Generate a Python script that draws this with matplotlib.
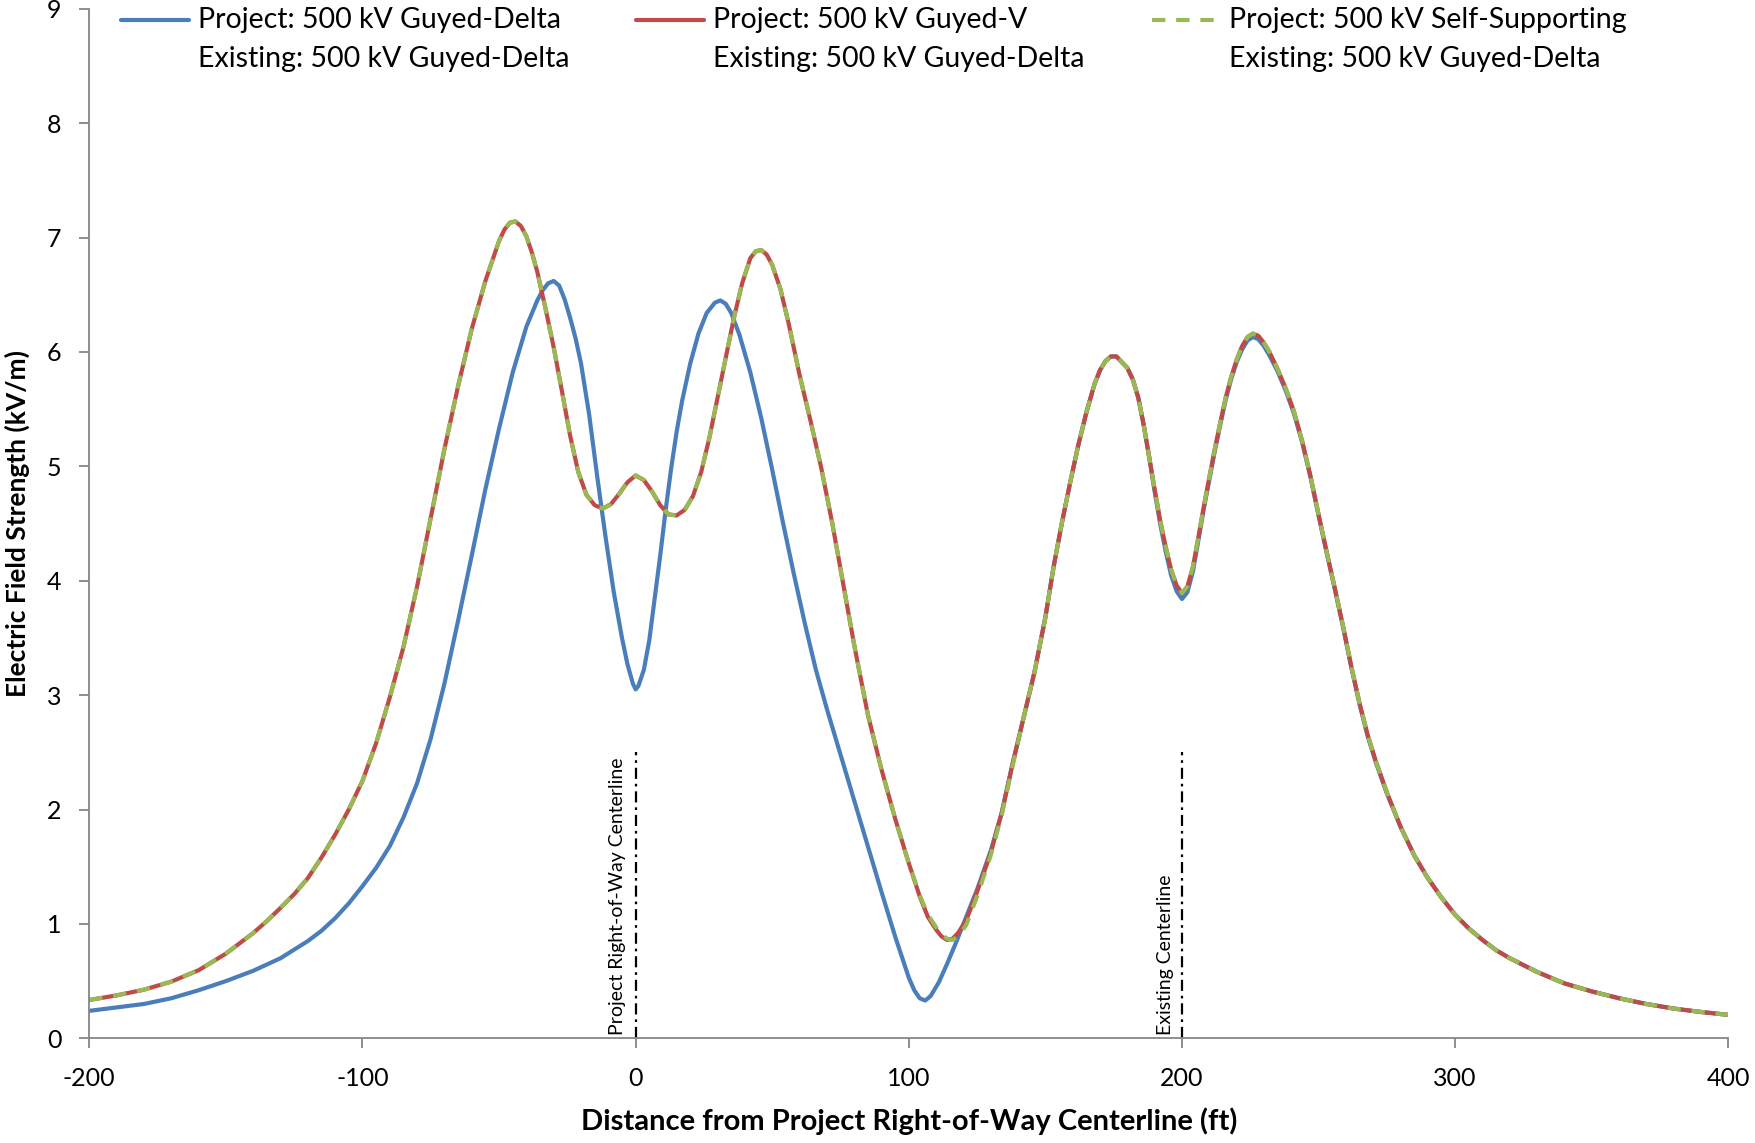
import matplotlib
matplotlib.use("Agg")
import matplotlib.pyplot as plt
from matplotlib.lines import Line2D

plt.rcParams['font.family'] = ['Lato', 'DejaVu Sans']

# ---------------- data ----------------
# Project: 500 kV Guyed-Delta / Existing: 500 kV Guyed-Delta
x_delta = [-200, -190, -180, -170, -160, -150, -140, -130, -120, -115, -110, -105, -100, -95, -90,
           -85, -80, -75, -70, -65, -60, -55, -50, -45, -40, -36, -34, -32, -30, -28, -26, -24,
           -22, -20, -17, -14, -11, -8, -5, -3, -1, 0, 1, 3, 5, 7, 9, 11, 13, 15, 17, 20, 23, 26,
           29, 31, 33, 35, 38, 42, 46, 50, 54, 58, 62, 66, 70, 75, 80, 85, 90, 95, 100, 102, 104,
           106, 108, 111, 114, 117, 120, 125, 130, 134, 138, 142, 146, 150, 153, 156, 159, 162,
           165, 168, 170, 172, 174, 176, 178, 180, 182, 184, 186, 188, 190, 192, 194, 196, 198,
           200, 202, 204, 206, 208, 210, 212, 214, 216, 218, 220, 222, 224, 226, 228, 230, 232,
           235, 238, 241, 244, 247, 250, 253, 256, 259, 262, 265, 268, 271, 275, 280, 285, 290,
           295, 300, 305, 310, 315, 320, 330, 340, 350, 360, 370, 380, 390, 400]
y_delta = [0.24, 0.27, 0.30, 0.35, 0.42, 0.50, 0.59, 0.70, 0.85, 0.94, 1.05, 1.18, 1.33, 1.49,
           1.68, 1.93, 2.23, 2.62, 3.10, 3.65, 4.22, 4.80, 5.33, 5.82, 6.22, 6.45, 6.54, 6.60,
           6.62, 6.58, 6.46, 6.30, 6.12, 5.90, 5.45, 4.90, 4.38, 3.90, 3.50, 3.27, 3.10, 3.05,
           3.08, 3.22, 3.48, 3.85, 4.22, 4.62, 4.98, 5.30, 5.57, 5.90, 6.16, 6.34, 6.43, 6.45,
           6.42, 6.34, 6.15, 5.82, 5.42, 4.97, 4.50, 4.05, 3.62, 3.22, 2.88, 2.48, 2.08, 1.68,
           1.28, 0.89, 0.53, 0.42, 0.35, 0.33, 0.37, 0.49, 0.65, 0.82, 1.00, 1.30, 1.64, 1.97,
           2.40, 2.80, 3.20, 3.68, 4.12, 4.50, 4.85, 5.18, 5.47, 5.72, 5.84, 5.92, 5.96, 5.96,
           5.91, 5.86, 5.76, 5.60, 5.36, 5.08, 4.78, 4.50, 4.26, 4.05, 3.91, 3.84, 3.90, 4.08,
           4.35, 4.63, 4.88, 5.13, 5.36, 5.58, 5.76, 5.91, 6.02, 6.10, 6.13, 6.11, 6.05, 5.97,
           5.83, 5.66, 5.46, 5.21, 4.91, 4.57, 4.24, 3.92, 3.59, 3.24, 2.92, 2.64, 2.41, 2.14,
           1.85, 1.60, 1.40, 1.23, 1.08, 0.96, 0.86, 0.77, 0.70, 0.58, 0.48, 0.41, 0.35, 0.30,
           0.26, 0.23, 0.205]

# Project: 500 kV Guyed-V / Existing: 500 kV Guyed-Delta
x_v = [-200, -190, -180, -170, -160, -150, -140, -135, -130, -125, -120, -115, -110, -105, -100,
       -95, -90, -85, -80, -75, -70, -65, -60, -55, -50, -48, -46, -44, -42, -40, -38, -36, -33,
       -30, -27, -24, -21, -18, -15, -12, -9, -6, -3, 0, 3, 6, 9, 12, 15, 18, 21, 24, 27, 30, 33,
       36, 39, 42, 44, 46, 48, 50, 53, 56, 60, 64, 68, 72, 76, 80, 85, 90, 95, 100, 104, 107,
       110, 112, 114, 116, 118, 121, 125, 130, 134, 138, 142, 146, 150, 153, 156, 159, 162, 165,
       168, 170, 172, 174, 176, 178, 180, 182, 184, 186, 188, 190, 192, 194, 196, 198, 200, 202,
       204, 206, 208, 210, 212, 214, 216, 218, 220, 222, 224, 226, 228, 230, 232, 235, 238, 241,
       244, 247, 250, 253, 256, 259, 262, 265, 268, 271, 275, 280, 285, 290, 295, 300, 305, 310,
       315, 320, 330, 340, 350, 360, 370, 380, 390, 400]
y_v = [0.335, 0.375, 0.425, 0.495, 0.595, 0.74, 0.92, 1.025, 1.14, 1.26, 1.40, 1.58, 1.78, 2.00,
       2.25, 2.58, 2.98, 3.42, 3.95, 4.55, 5.15, 5.70, 6.20, 6.62, 6.97, 7.07, 7.13, 7.14, 7.10,
       7.01, 6.87, 6.70, 6.38, 6.04, 5.66, 5.27, 4.95, 4.75, 4.66, 4.63, 4.67, 4.76, 4.86, 4.92,
       4.88, 4.78, 4.66, 4.58, 4.57, 4.62, 4.74, 4.95, 5.25, 5.60, 5.95, 6.30, 6.60, 6.82, 6.88,
       6.89, 6.85, 6.76, 6.55, 6.25, 5.80, 5.40, 4.98, 4.50, 3.97, 3.44, 2.83, 2.35, 1.92, 1.53,
       1.24, 1.06, 0.95, 0.89, 0.86, 0.87, 0.92, 1.03, 1.28, 1.62, 1.97, 2.40, 2.80, 3.20, 3.68,
       4.12, 4.50, 4.85, 5.18, 5.47, 5.72, 5.84, 5.92, 5.96, 5.96, 5.91, 5.86, 5.76, 5.60, 5.36,
       5.08, 4.80, 4.53, 4.30, 4.10, 3.96, 3.89, 3.95, 4.12, 4.38, 4.65, 4.90, 5.15, 5.38, 5.60,
       5.78, 5.93, 6.05, 6.13, 6.16, 6.14, 6.08, 6.00, 5.85, 5.68, 5.48, 5.22, 4.92, 4.58, 4.25,
       3.93, 3.60, 3.25, 2.93, 2.65, 2.42, 2.15, 1.85, 1.60, 1.40, 1.23, 1.08, 0.96, 0.86, 0.77,
       0.70, 0.58, 0.48, 0.41, 0.35, 0.30, 0.26, 0.23, 0.205]

# Project: 500 kV Self-Supporting / Existing: 500 kV Guyed-Delta
x_ss = list(x_v)
y_ss = [0.335, 0.375, 0.425, 0.495, 0.595, 0.74, 0.92, 1.025, 1.14, 1.26, 1.40, 1.58, 1.78, 2.00,
        2.25, 2.58, 2.98, 3.42, 3.95, 4.55, 5.15, 5.70, 6.20, 6.62, 6.97, 7.07, 7.13, 7.14, 7.10,
        7.01, 6.87, 6.70, 6.38, 6.04, 5.66, 5.27, 4.95, 4.75, 4.66, 4.63, 4.67, 4.76, 4.86, 4.92,
        4.88, 4.78, 4.66, 4.58, 4.57, 4.62, 4.74, 4.95, 5.25, 5.60, 5.95, 6.30, 6.60, 6.82, 6.88,
        6.89, 6.85, 6.76, 6.55, 6.25, 5.80, 5.40, 4.98, 4.50, 3.97, 3.44, 2.83, 2.35, 1.92, 1.53,
        1.25, 1.08, 0.97, 0.91, 0.87, 0.86, 0.89, 0.99, 1.24, 1.60, 1.95, 2.38, 2.80, 3.20, 3.68,
        4.12, 4.50, 4.85, 5.18, 5.47, 5.72, 5.84, 5.92, 5.96, 5.96, 5.91, 5.86, 5.76, 5.60, 5.36,
        5.08, 4.80, 4.53, 4.30, 4.10, 3.96, 3.89, 3.95, 4.12, 4.38, 4.65, 4.90, 5.15, 5.38, 5.60,
        5.78, 5.93, 6.05, 6.13, 6.16, 6.14, 6.08, 6.00, 5.85, 5.68, 5.48, 5.22, 4.92, 4.58, 4.25,
        3.93, 3.60, 3.25, 2.93, 2.65, 2.42, 2.15, 1.85, 1.60, 1.40, 1.23, 1.08, 0.96, 0.86, 0.77,
        0.70, 0.58, 0.48, 0.41, 0.35, 0.30, 0.26, 0.23, 0.205]

labels = ["Project: 500 kV Guyed-Delta\nExisting: 500 kV Guyed-Delta",
          "Project: 500 kV Guyed-V\nExisting: 500 kV Guyed-Delta",
          "Project: 500 kV Self-Supporting\nExisting: 500 kV Guyed-Delta"]
centerlines = [0, 200]
centerline_top = 2.5
centerline_labels = ["Project Right-of-Way Centerline", "Existing Centerline"]
centerline_label_x = [-6.5, 194]
x_ticks = [-200, -100, 0, 100, 200, 300, 400]
y_ticks = list(range(0, 10))

# ---------------- figure ----------------
W, H = 1756, 1143
fig = plt.figure(figsize=(W / 100, H / 100), dpi=100)
ax = fig.add_axes([89.3 / W, 1 - 1038.3 / H, (1728.3 - 89.3) / W, (1038.3 - 8.7) / H])

c_blue, c_red, c_green = '#4A7EBB', '#BE4B48', '#98B954'
lw = 3.0
dash = (0, (3.2, 2.6))
ax.plot(x_delta, y_delta, color=c_blue, lw=lw, solid_capstyle='round', solid_joinstyle='round')
ax.plot(x_v, y_v, color=c_red, lw=lw, solid_capstyle='round', solid_joinstyle='round')
ax.plot(x_ss, y_ss, color=c_green, lw=lw, linestyle=dash, dash_capstyle='butt',
        dash_joinstyle='round')

for xc, lab, xl in zip(centerlines, centerline_labels, centerline_label_x):
    ax.plot([xc, xc], [0, centerline_top], color='black', lw=1.6,
            linestyle=(0, (5, 2.2, 1.2, 2.2)))
    ax.text(xl, 0.03, lab, rotation=90, ha='center', va='bottom', fontsize=14)

ax.set_xlim(-200, 400)
ax.set_ylim(0, 9)
ax.set_xticks(x_ticks)
ax.set_yticks(y_ticks)
ax.set_xticklabels([str(v) for v in x_ticks])
ax.set_yticklabels([str(v) for v in y_ticks])
for s in ['top', 'right']:
    ax.spines[s].set_visible(False)
for s in ['left', 'bottom']:
    ax.spines[s].set_color('#868686')
    ax.spines[s].set_linewidth(1.3)
ax.tick_params(axis='both', direction='out', length=7, width=1.3, color='#868686',
               labelsize=18, labelcolor='black')
ax.tick_params(axis='x', pad=14)
ax.tick_params(axis='y', pad=13)

ax.set_xlabel("Distance from Project Right-of-Way Centerline (ft)", fontsize=21,
              fontweight='bold', labelpad=12)
ax.set_ylabel("Electric Field Strength (kV/m)", fontsize=19, fontweight='bold', labelpad=12)

# legend (manual, handle aligned with first text row)
leg_x0 = [121, 636, 1152]
leg_len = 68
leg_txt_dx = 77
row1_y, row2_y = 20, 59
colors = [c_blue, c_red, c_green]
styles = ['-', '-', dash]
for x0, lab, col, ls in zip(leg_x0, labels, colors, styles):
    l = Line2D([x0 / W, (x0 + leg_len) / W], [1 - row1_y / H, 1 - row1_y / H],
               transform=fig.transFigure, color=col, lw=lw, linestyle=ls,
               solid_capstyle='round')
    fig.add_artist(l)
    first, second = lab.split("\n")
    fig.text((x0 + leg_txt_dx) / W, 1 - row1_y / H, first, ha='left', va='center', fontsize=20.5)
    fig.text((x0 + leg_txt_dx) / W, 1 - row2_y / H, second, ha='left', va='center', fontsize=20.5)

fig.savefig("out.png", dpi=100)
